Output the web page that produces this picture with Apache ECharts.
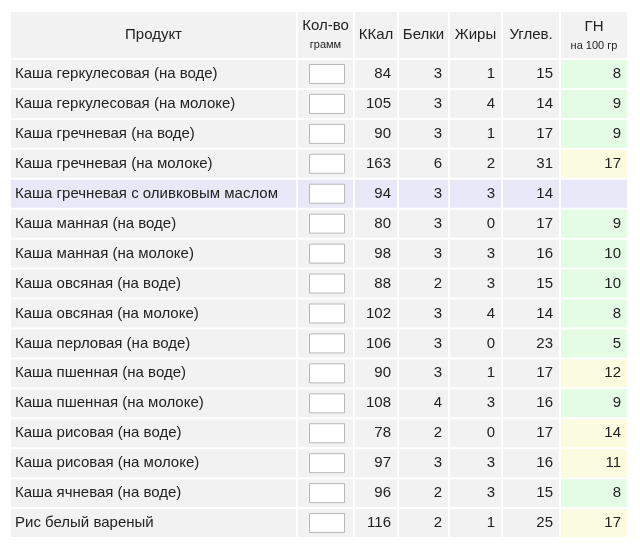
<!DOCTYPE html><html><head><meta charset="utf-8">
<script src="https://cdn.jsdelivr.net/npm/echarts@6/dist/echarts.min.js"></script>
<style>html,body{margin:0;background:#fff}#c{width:640px;height:553px}</style></head><body><div id="c"></div>
<script>
const products=["Каша геркулесовая (на воде)","Каша геркулесовая (на молоке)","Каша гречневая (на воде)","Каша гречневая (на молоке)","Каша гречневая с оливковым маслом","Каша манная (на воде)","Каша манная (на молоке)","Каша овсяная (на воде)","Каша овсяная (на молоке)","Каша перловая (на воде)","Каша пшенная (на воде)","Каша пшенная (на молоке)","Каша рисовая (на воде)","Каша рисовая (на молоке)","Каша ячневая (на воде)","Рис белый вареный"];
const kcal=[84,105,90,163,94,80,98,88,102,106,90,108,78,97,96,116];
const protein=[3,3,3,6,3,3,3,2,3,3,3,4,2,3,2,2];
const fat=[1,4,1,2,3,0,3,3,4,0,1,3,0,3,3,1];
const carbs=[15,14,17,31,14,17,16,15,14,23,17,16,17,16,15,25];
const gn=[8,9,9,17,null,9,10,10,8,5,12,9,14,11,8,17];
const headers=["Продукт","Кол-во","ККал","Белки","Жиры","Углев.","ГН"];
const subHeaders=["","грамм","","","","","на 100 гр"];
const highlightRow=4;
// layout (pixel columns)
const edges=[10,297,354,398,449,502,560,628];
const F='Liberation Sans, Arial, sans-serif';
const FS='15px ';
const chart=echarts.init(document.getElementById('c'));
const graphic=[];
for(let i=0;i<7;i++){
  const x0=edges[i]+1,x1=edges[i+1]-1;
  graphic.push({type:'rect',shape:{x:x0,y:12,width:x1-x0,height:46},style:{fill:'#f2f2f2'}});
  const cx=(x0+x1)/2;
  if(subHeaders[i]){
    graphic.push({type:'text',x:cx,y:i===6?27:26,style:{text:headers[i],font:FS+F,fill:'#222',align:'center',verticalAlign:'middle'}});
    graphic.push({type:'text',x:cx,y:i===6?46:45,style:{text:subHeaders[i],font:'11px '+F,fill:'#222',align:'center',verticalAlign:'middle'}});
  } else graphic.push({type:'text',x:cx,y:35,style:{text:headers[i],font:FS+F,fill:'#222',align:'center',verticalAlign:'middle'}});
}
chart.setOption({
  animation:false,
  grid:{left:10,right:12,top:59,bottom:15},
  xAxis:{type:'value',min:10,max:628,show:false},
  yAxis:{type:'category',data:products,inverse:true,show:false},
  graphic:graphic,
  series:[{type:'custom',data:products.map((p,i)=>[i]),encode:{y:0},
    renderItem:(params,api)=>{
      const i=api.value(0);
      const c=api.coord([10,i]);const h=api.size([0,1])[1];
      const yt=c[1]-h/2+1, hh=h-2, yc=c[1];
      const ch=[];
      const vals=[products[i],null,kcal[i],protein[i],fat[i],carbs[i],gn[i]];
      for(let k=0;k<7;k++){
        const x0=edges[k]+1,x1=edges[k+1]-1;
        let fill=i===highlightRow?'#e8e8f8':'#f2f2f2';
        if(k===6&&gn[i]!=null) fill=gn[i]<=10?'#e4fbe4':'#fbfbe0';
        ch.push({type:'rect',shape:{x:x0,y:yt,width:x1-x0,height:hh},style:{fill}});
        if(k===0) ch.push({type:'text',x:x0+4,y:yc,style:{text:vals[0],font:FS+F,fill:'#222',verticalAlign:'middle'}});
        else if(k===1) ch.push({type:'rect',shape:{x:309.5,y:yc-9.5,width:35,height:19},style:{fill:'#fff',stroke:'#b8b8b8',lineWidth:1}});
        else if(vals[k]!=null) ch.push({type:'text',x:x1-6,y:yc,style:{text:String(vals[k]),font:FS+F,fill:'#222',align:'right',verticalAlign:'middle'}});
      }
      return {type:'group',children:ch};
    }}]
});
</script></body></html>
